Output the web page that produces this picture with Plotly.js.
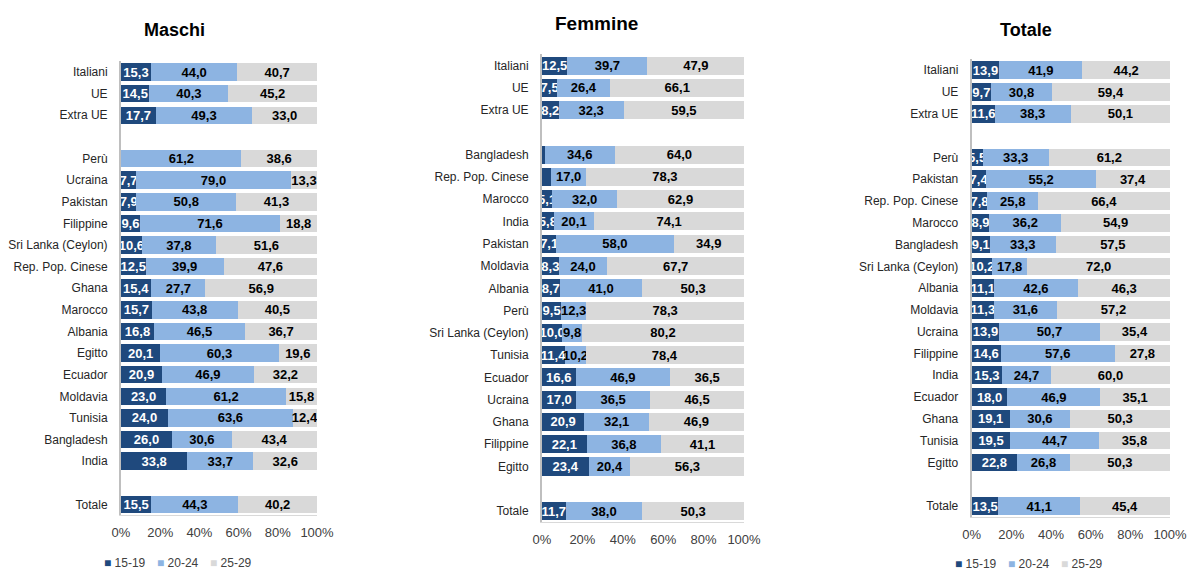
<!DOCTYPE html>
<html><head><meta charset="utf-8">
<script src="https://cdn.plot.ly/plotly-3.0.1.min.js"></script>
<style>html,body{margin:0;padding:0;background:#fff}#chart{width:1187px;height:569px}</style>
</head><body><div id="chart"></div>
<script>
// ---- DATA ----
const panelTitles = ['Maschi', 'Femmine', 'Totale'];
const ageGroups = ['15-19', '20-24', '25-29'];
const groupsTop = ['Italiani', 'UE', 'Extra UE'];
const totalLabel = ['Totale'];

const countriesM = ['Perù','Ucraina','Pakistan','Filippine','Sri Lanka (Ceylon)','Rep. Pop. Cinese','Ghana','Marocco','Albania','Egitto','Ecuador','Moldavia','Tunisia','Bangladesh','India'];
const m1519 = [15.3,14.5,17.7, 0.2,7.7,7.9,9.6,10.6,12.5,15.4,15.7,16.8,20.1,20.9,23.0,24.0,26.0,33.8, 15.5];
const m2024 = [44.0,40.3,49.3, 61.2,79.0,50.8,71.6,37.8,39.9,27.7,43.8,46.5,60.3,46.9,61.2,63.6,30.6,33.7, 44.3];
const m2529 = [40.7,45.2,33.0, 38.6,13.3,41.3,18.8,51.6,47.6,56.9,40.5,36.7,19.6,32.2,15.8,12.4,43.4,32.6, 40.2];

const countriesF = ['Bangladesh','Rep. Pop. Cinese','Marocco','India','Pakistan','Moldavia','Albania','Perù','Sri Lanka (Ceylon)','Tunisia','Ecuador','Ucraina','Ghana','Filippine','Egitto'];
const f1519 = [12.5,7.5,8.2, 1.4,4.7,5.1,5.8,7.1,8.3,8.7,9.5,10.0,11.4,16.6,17.0,20.9,22.1,23.4, 11.7];
const f2024 = [39.7,26.4,32.3, 34.6,17.0,32.0,20.1,58.0,24.0,41.0,12.3,9.8,10.2,46.9,36.5,32.1,36.8,20.4, 38.0];
const f2529 = [47.9,66.1,59.5, 64.0,78.3,62.9,74.1,34.9,67.7,50.3,78.3,80.2,78.4,36.5,46.5,46.9,41.1,56.3, 50.3];

const countriesT = ['Perù','Pakistan','Rep. Pop. Cinese','Marocco','Bangladesh','Sri Lanka (Ceylon)','Albania','Moldavia','Ucraina','Filippine','India','Ecuador','Ghana','Tunisia','Egitto'];
const t1519 = [13.9,9.7,11.6, 5.5,7.4,7.8,8.9,9.1,10.2,11.1,11.3,13.9,14.6,15.3,18.0,19.1,19.5,22.8, 13.5];
const t2024 = [41.9,30.8,38.3, 33.3,55.2,25.8,36.2,33.3,17.8,42.6,31.6,50.7,57.6,24.7,46.9,30.6,44.7,26.8, 41.1];
const t2529 = [44.2,59.4,50.1, 61.2,37.4,66.4,54.9,57.5,72.0,46.3,57.2,35.4,27.8,60.0,35.1,50.3,35.8,50.3, 45.4];

const xTickVals = [0, 20, 40, 60, 80, 100];
const xTickText = ['0%', '20%', '40%', '60%', '80%', '100%'];

// ---- STYLE ----
const W = 1187, H = 569;
const colors = ['#1F497D', '#8DB4E2', '#D9D9D9'];
const textColors = ['#ffffff', '#000000', '#000000'];
const labelFont = 'Liberation Sans Narrow, Arial Narrow, Liberation Sans, Arial, sans-serif';
const baseFont = 'Liberation Sans, Arial, sans-serif';

// panel pixel geometry [x0, x1, yTop, yBottom]
const geom = [
  [121, 317, 61.2, 515.3],
  [542, 744, 54.4, 522.2],
  [971.7, 1170, 59.4, 516.9]
];
const titlePos = [[174.5, 30, 18], [597, 23, 19], [1026, 30, 18]];
// legend square left edge x per item, and legend centre y per panel
const legendSqX = [[104, 157, 210], [525, 577, 630], [955, 1008, 1061]];
const legendY = [562, 574, 563];

const panels = [
  {cats: groupsTop.concat(countriesM, totalLabel), vals: [m1519, m2024, m2529]},
  {cats: groupsTop.concat(countriesF, totalLabel), vals: [f1519, f2024, f2529]},
  {cats: groupsTop.concat(countriesT, totalLabel), vals: [t1519, t2024, t2529]}
];

function slot(i, n) { // gap after top group and before total
  if (i < groupsTop.length) return i;
  if (i < n - 1) return i + 1;
  return i + 2;
}

const traces = [];
const layout = {
  width: W, height: H,
  margin: {l: 0, r: 0, t: 0, b: 0, autoexpand: false},
  paper_bgcolor: '#fff', plot_bgcolor: '#fff',
  barmode: 'stack', bargap: 0.19,
  separators: ',.',
  showlegend: true,
  font: {family: baseFont, size: 13, color: '#262626'},
  annotations: []
};

panels.forEach((p, k) => {
  const n = p.cats.length;
  const ys = p.cats.map((c, i) => slot(i, n));
  const sfx = k === 0 ? '' : String(k + 1);
  const g = geom[k];
  p.vals.forEach((arr, j) => {
    traces.push({
      type: 'bar', orientation: 'h',
      name: ageGroups[j],
      x: arr, y: ys,
      xaxis: 'x' + sfx, yaxis: 'y' + sfx,
      showlegend: false,
      marker: {color: colors[j], line: {width: 0}},
      text: arr.map(v => v >= 5 ? v.toFixed(1).replace('.', ',') : ''),
      textposition: 'inside', insidetextanchor: 'middle', constraintext: 'none',
      textangle: 0,
      textfont: {family: labelFont, size: 13, color: textColors[j], weight: 'bold'},
      hoverinfo: 'skip'
    });
  });
  // legend entries: compact coloured square glyph + label, one legend box per item
  ageGroups.forEach((ag, j) => {
    const li = k * 3 + j;
    const lname = li === 0 ? 'legend' : 'legend' + (li + 1);
    traces.push({
      type: 'scatter', mode: 'markers',
      name: '<span style="color:' + colors[j] + '">■</span> ' + ag,
      x: [null], y: [null],
      xaxis: 'x' + sfx, yaxis: 'y' + sfx,
      legend: lname, showlegend: true,
      marker: {symbol: 'square', size: 1, color: 'rgba(0,0,0,0)', line: {width: 0, color: 'rgba(0,0,0,0)'}},
      hoverinfo: 'skip'
    });
    layout[lname] = {
      orientation: 'h', xref: 'paper', yref: 'paper',
      x: (legendSqX[k][j] - 40) / W, y: 1 - legendY[k] / H,
      xanchor: 'left', yanchor: 'middle',
      font: {family: baseFont, size: 12, color: '#404040'},
      itemwidth: 30,
      bgcolor: 'rgba(0,0,0,0)'
    };
  });
  layout['xaxis' + sfx] = {
    domain: [g[0] / W, g[1] / W],
    anchor: 'y' + sfx,
    range: [0, 100], fixedrange: true,
    tickvals: xTickVals, ticktext: xTickText,
    showgrid: false, zeroline: false,
    showline: true, linecolor: '#d9d9d9', linewidth: 1,
    ticks: '', ticklabelstandoff: 5, ticklabeloverflow: 'allow',
    tickfont: {family: baseFont, size: 13, color: '#404040'}
  };
  layout['yaxis' + sfx] = {
    domain: [1 - g[3] / H, 1 - g[2] / H],
    anchor: 'x' + sfx,
    range: [20.5, -0.5], fixedrange: true,
    tickvals: ys, ticktext: p.cats,
    showgrid: false, zeroline: false,
    showline: true, linecolor: '#bfbfbf', linewidth: 2,
    ticks: '', ticklabelstandoff: 9,
    tickfont: {family: baseFont, size: 12, color: '#262626'}
  };
  layout.annotations.push({
    text: panelTitles[k], xref: 'paper', yref: 'paper',
    x: titlePos[k][0] / W, y: 1 - titlePos[k][1] / H,
    xanchor: 'center', yanchor: 'middle', showarrow: false,
    font: {family: baseFont, size: titlePos[k][2], color: '#000', weight: 'bold'}
  });
});

Plotly.newPlot('chart', traces, layout, {staticPlot: true, displayModeBar: false});
</script>
</body></html>
